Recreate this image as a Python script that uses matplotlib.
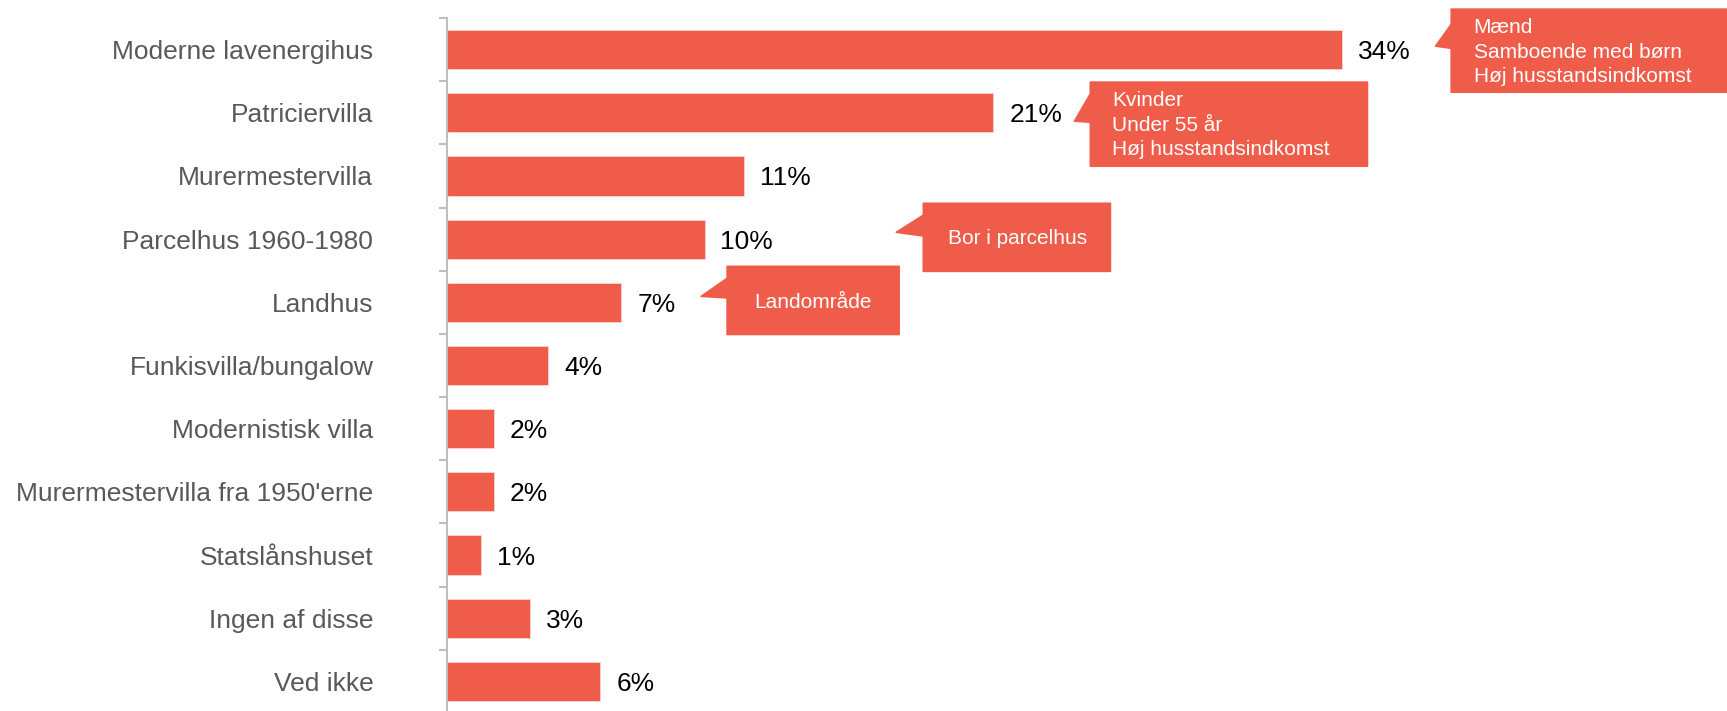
import matplotlib
matplotlib.use("Agg")
import matplotlib.pyplot as plt
from matplotlib.patches import Polygon

# data
categories = [
    "Moderne lavenergihus",
    "Patriciervilla",
    "Murermestervilla",
    "Parcelhus 1960-1980",
    "Landhus",
    "Funkisvilla/bungalow",
    "Modernistisk villa",
    "Murermestervilla fra 1950'erne",
    "Statslånshuset",
    "Ingen af disse",
    "Ved ikke",
]
values = [34.4, 21.0, 11.4, 9.9, 6.7, 3.9, 1.8, 1.8, 1.3, 3.2, 5.9]
value_labels = ["34%", "21%", "11%", "10%", "7%", "4%", "2%", "2%", "1%", "3%", "6%"]

callout_rows = [0, 1, 3, 4]
callout_texts = [
    "Mænd\nSamboende med børn\nHøj husstandsindkomst",
    "Kvinder\nUnder 55 år\nHøj husstandsindkomst",
    "Bor i parcelhus",
    "Landområde",
]

BAR = "#EF5D4A"
GREY = "#BFBFBF"

plt.rcParams["font.family"] = ["Liberation Sans", "DejaVu Sans"]

fig = plt.figure(figsize=(17.27, 7.11), dpi=100)
ax = fig.add_axes([0.2588, -0.0028, 0.7412, 0.9775])

y = list(range(len(categories)))
ax.barh(y, values, height=0.62, color=BAR, edgecolor="#F7D5CF", linewidth=0.6)

for i, (v, lab) in enumerate(zip(values, value_labels)):
    ax.annotate(lab, (v, i), xytext=(11.5, 0), textcoords="offset points",
                ha="left", va="center_baseline", fontsize=19, color="black")

ax.set_xlim(0, 49.2)
ax.set_ylim(len(categories) - 0.5, -0.5)

ax.set_yticks(y)
ax.set_yticklabels(categories, fontsize=19, color="#595959")
ax.tick_params(axis="y", which="major", length=0, pad=53)
ax.set_yticks([i - 0.5 for i in range(len(categories) + 1)], minor=True)
ax.tick_params(axis="y", which="minor", length=6, width=1.5, color=GREY,
               direction="out")
ax.set_xticks([])

for s in ["top", "right", "bottom"]:
    ax.spines[s].set_visible(False)
ax.spines["left"].set_color(GREY)
ax.spines["left"].set_linewidth(1.5)

# callout boxes in data units: box (left, right, top, bottom), tail tip,
# tail base on the box's left edge, text anchor
layouts = [
    dict(box=(38.6, 49.3, -0.64, 0.674), tip=(38.0, -0.055), base=(-0.40, -0.02),
         text=(39.46, 0.04), ha="left"),
    dict(box=(24.73, 35.38, 0.515, 1.846), tip=(24.12, 1.133), base=(0.70, 1.15),
         text=(25.58, 1.196), ha="left"),
    dict(box=(18.31, 25.5, 2.433, 3.51), tip=(17.27, 2.892), base=(2.62, 2.95),
         text=(21.92, 2.99), ha="center"),
    dict(box=(10.77, 17.38, 3.431, 4.509), tip=(9.77, 3.906), base=(3.62, 3.93),
         text=(14.08, 4.0), ha="center"),
]

for row, txt, lay in zip(callout_rows, callout_texts, layouts):
    x0, x1, y0, y1 = lay["box"]
    tx, ty = lay["tip"]
    b0, b1 = lay["base"]
    pts = [(x0, y0), (x1, y0), (x1, y1), (x0, y1), (x0, b1), (tx, ty), (x0, b0)]
    poly = Polygon(pts, closed=True, facecolor=BAR, edgecolor=BAR,
                   linewidth=1.2, joinstyle="round", clip_on=False, zorder=3)
    ax.add_patch(poly)
    ax.text(lay["text"][0], lay["text"][1], txt, ha=lay["ha"], va="center",
            fontsize=15, color="white", linespacing=1.38, zorder=4,
            clip_on=False)

fig.savefig("out.png", dpi=100)
